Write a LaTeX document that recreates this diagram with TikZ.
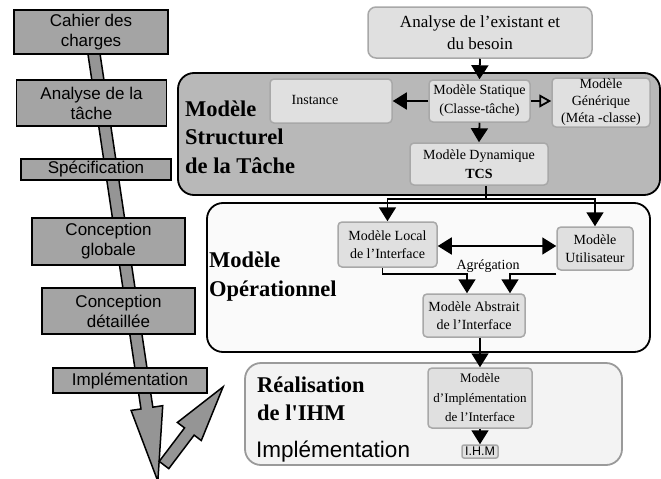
\documentclass[tikz,border=0pt]{standalone}
\usepackage{fontspec}
\setmainfont{Liberation Serif}
\setsansfont{Liberation Sans}
\usetikzlibrary{arrows.meta}

\definecolor{phasegray}{HTML}{A4A4A4}
\definecolor{arrowgray}{HTML}{959595}
\definecolor{structgray}{HTML}{B8B8B8}
\definecolor{boxgray}{HTML}{E0E0E0}
\definecolor{boxedge}{HTML}{A8A8A8}
\definecolor{opfill}{HTML}{FAFAFA}
\definecolor{realfill}{HTML}{F3F3F3}
\definecolor{realedge}{HTML}{9A9A9A}

\begin{document}
\begin{tikzpicture}[x=1pt, y=-1pt,
  phase/.style={rectangle, draw=black, line width=1.6pt, fill=phasegray, inner sep=0pt, align=center,
    font=\sffamily\fontsize{17}{20}\selectfont},
  inbox/.style={rectangle, rounded corners=4pt, draw=boxedge, line width=1.5pt, fill=boxgray, inner sep=0pt,
    align=center, font=\fontsize{14}{19}\selectfont},
  zone/.style={rectangle, rounded corners=16pt, line width=1.8pt, inner sep=0pt},
  zonetitle/.style={anchor=west, align=left, inner sep=0pt, font=\bfseries\fontsize{22.5}{28.5}\selectfont},
  link/.style={line width=1.8pt, -{Triangle[width=17pt,length=14pt]}},
  bigarrow/.style={draw=black, line width=1.5pt, fill=arrowgray, line join=miter},
]
  \useasboundingbox[fill=white] (0,0) rectangle (661,479);

  % Cycle de vie (left)
  \begin{scope}[shift={(94,54)}, rotate=8.5]
    \draw[bigarrow] (-6,-5) -- (-6,358) -- (-16,358) -- (0,432) -- (16,358) -- (6,358) -- (6,-5) -- cycle;
  \end{scope}
  \begin{scope}[shift={(164,465)}, rotate=52.9]
    \draw[bigarrow] (0,-6) -- (42,-6) -- (42,-15) -- (98,0) -- (42,15) -- (42,6) -- (0,6) -- cycle;
  \end{scope}

  \draw (91,32)     node(Cahier)  [phase, minimum width=154, minimum height=44] {Cahier des\\charges};
  \draw (91.5,103)  node(Tache)   [phase, minimum width=150, minimum height=46] {Analyse de la\\tâche};
  \draw (96,169.5)  node(Spec)    [phase, minimum width=150, minimum height=21] {Spécification};
  \draw (108.5,241.5) node(ConcG) [phase, minimum width=153, minimum height=47] {Conception\\globale};
  \draw (118.5,311) node(ConcD)   [phase, minimum width=153, minimum height=46] {Conception\\détaillée};
  \draw (130,380.5) node(Implem)  [phase, minimum width=154, minimum height=25] {Implémentation};

  % Zones
  \draw (419,134)     node(Struct) [zone, draw=black, fill=structgray, minimum width=482, minimum height=122] {};
  \draw (428.5,277.5) node(Oper)   [zone, draw=black, fill=opfill, minimum width=443, minimum height=149] {};
  \draw (433.5,414)   node(Real)   [zone, draw=realedge, fill=realfill, minimum width=377, minimum height=102] {};

  \draw (185,137) node(StructT) [zonetitle] {Modèle\\Structurel\\de la Tâche};
  \draw (209,276.5) node(OperT) [zonetitle] {Modèle\\Opérationnel};
  \draw (257,399) node(RealT)   [zonetitle] {Réalisation\\de l\textquotesingle IHM};
  \draw (256,452) node(RealI)   [anchor=west, inner sep=0pt, font=\sffamily\fontsize{22.5}{26}\selectfont] {Implémentation};

  % Nodes
  \draw (480,32.5)  node(Besoin) [inbox, rounded corners=8pt, minimum width=224, minimum height=51,
    font=\fontsize{17}{22}\selectfont] {Analyse de l’existant et\\du besoin};
  \draw (331,101)   node(Inst)   [inbox, minimum width=122, minimum height=44] {\raisebox{3pt}{Instance}\hspace{32pt}};
  \draw (479.5,101) node(Stat)   [inbox, minimum width=101, minimum height=42] {Modèle Statique\\(Classe-tâche)};
  \draw (601,102.5) node(Gen)    [inbox, minimum width=98, minimum height=49,
    font=\fontsize{14}{17}\selectfont] {Modèle\\Générique\\(Méta -classe)};
  \draw (479,164)   node(Dyn)    [inbox, minimum width=138, minimum height=42] {Modèle Dynamique\\\textbf{TCS}};
  \draw (387.5,244.5) node(Local) [inbox, minimum width=99, minimum height=45,
    font=\fontsize{14}{18}\selectfont] {Modèle Local\\de l’Interface};
  \draw (595,248.5) node(Util)   [inbox, minimum width=76, minimum height=43,
    font=\fontsize{14}{18}\selectfont] {Modèle\\Utilisateur};
  \draw (474,315.5) node(Abs)    [inbox, minimum width=102, minimum height=43,
    font=\fontsize{14}{18}\selectfont] {Modèle Abstrait\\de l’Interface};
  \draw (480,398)   node(Impl)   [inbox, minimum width=104, minimum height=60,
    font=\fontsize{13}{19.5}\selectfont] {Modèle\\d’Implémentation\\de l’Interface};
  \draw (480,451.5) node(IHM)    [inbox, rounded corners=2pt, minimum width=36, minimum height=13,
    font=\sffamily\fontsize{12.5}{14}\selectfont] {I.H.M};

  \draw (488,266) node(Agreg) [inner sep=0pt, font=\fontsize{14}{16}\selectfont] {Agrégation};

  % Edges
  \coordinate (J) at (486,199);
  \coordinate (AggL) at (467,274);
  \coordinate (AggR) at (510,274);

  \draw[link] (Besoin.south) -- (Stat.north);
  \draw[link] (Stat.west) -- (Inst.east);
  \draw[line width=1.8pt, -{Triangle[open, width=13pt, length=12pt]}] (Stat.east) -- (Stat.east -| Gen.west);
  \draw[link] (Stat.south) -- (Dyn.north);
  \draw[line width=1.8pt] (Dyn.south -| J) -- (J);
  \draw[link] (J) -| (Local.north);
  \draw[link] (J) -| (Util.north);
  \draw[line width=1.8pt, {Triangle[width=17pt,length=14pt]}-{Triangle[width=17pt,length=14pt]}]
    (Local.east |- 0,246) -- (Util.west |- 0,246);
  \draw[link] ([xshift=-5pt]Local.south) |- (AggL) -- (AggL |- Abs.north);
  \draw[link] (Util.south west |- AggR) -- (AggR) -- (AggR |- Abs.north);
  \draw[link] (Abs.south -| Impl.north) -- (Impl.north);
  \draw[link] (Impl.south) -- (IHM.north);
\end{tikzpicture}
\end{document}
